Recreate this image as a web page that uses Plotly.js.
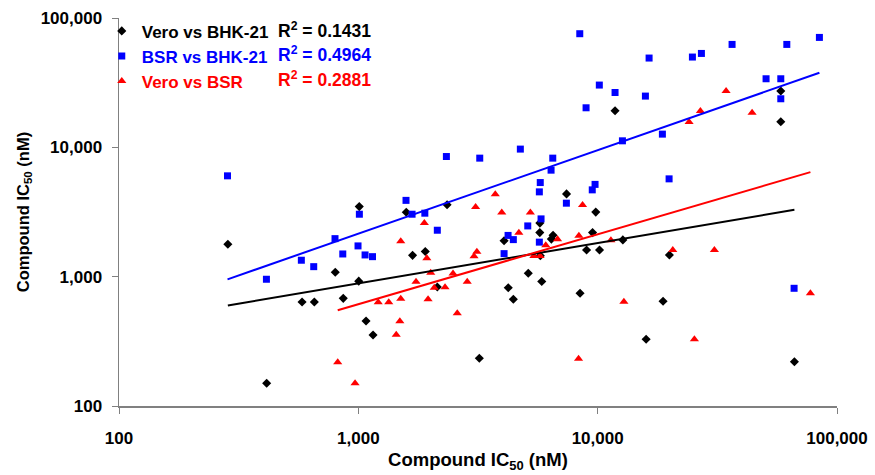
<!DOCTYPE html>
<html>
<head>
<meta charset="utf-8">
<script src="https://cdn.plot.ly/plotly-3.0.1.min.js"></script>
<style>html,body{margin:0;padding:0;background:#fff;}#chart{width:875px;height:475px;}</style>
</head>
<body>
<div id="chart"></div>
<script>
// Series names and R² labels
const seriesNames = ["Vero vs BHK-21", "BSR vs BHK-21", "Vero vs BSR"];
const r2Labels = ["0.1431", "0.4964", "0.2881"];

// Vero vs BHK-21 (black diamonds)
const veroBhkX = [285,414,582,655,801,865,1004,1009,1077,1152,1586,1685,1904,2138,2349,3203,4064,4231,4443,5129,5734,5730,5761,5840,6405,6510,7413,8441,8987,9521,9819,10180,11820,12740,15940,18760,19940,58230,58230,66380];
const veroBhkY = [1781,150,637,637,1083,680,923,3482,454,354,3151,1461,1567,832,3602,234,1896,821,669,1062,2595,2191,1451,918,1952,2091,4366,744,1609,2191,3156,1609,19160,1924,328,645,1472,27230,15750,220];

// BSR vs BHK-21 (blue squares)
const bsrBhkX = [284,413,578,651,799,861,997,1010,1067,1146,1582,1677,1896,2138,2333,3216,4064,4223,4443,4753,5104,5706,5706,5756,5800,6387,6492,7401,8418,8944,9493,9752,10160,11820,12690,15830,16400,18640,19880,24880,27130,36440,50540,58230,58230,61700,66180,84420];
const bsrBhkY = [6020,955,1340,1195,1968,1498,1729,3040,1472,1428,3890,3040,3096,2286,8490,8250,1507,2084,1934,9690,2468,4525,1849,5341,2797,6660,8250,3700,75600,20220,4690,5170,30300,26550,11230,24900,49020,12650,5705,49900,53210,62480,33900,33900,23740,62480,813,70770];

// Vero vs BSR (red triangles)
const veroBsrX = [820,969,1211,1340,1440,1491,1504,1504,1742,1887,1933,1956,2007,2076,2303,2487,2590,2851,3044,3090,3128,3734,3975,4685,5234,5413,5745,6069,6799,8321,8347,8647,11360,12870,20600,24100,25360,26870,30740,34400,44180,77420];
const veroBsrY = [218,150,634,633,355,452,1879,674,915,2595,1391,669,1074,821,829,1059,521,915,1438,3464,1558,4343,3140,2187,3140,1446,1446,1753,1948,232,2076,3589,1913,641,1609,15670,328,19060,1609,27230,18490,744];

// Axis ticks
const tickVals = [100, 1000, 10000, 100000];
const tickText = ["100", "1,000", "10,000", "100,000"];

const colors = ["#000000", "#0000ff", "#ff0000"];
const symbols = ["diamond", "square", "triangle-up"];
const sizes = [7, 7, 8];
const FONT = "Liberation Sans, Arial, sans-serif";

// power trendline (least squares in log-log space)
function powerFit(xs, ys) {
  const lx = xs.map(Math.log10), ly = ys.map(Math.log10);
  const n = lx.length;
  const mx = lx.reduce((a, b) => a + b, 0) / n;
  const my = ly.reduce((a, b) => a + b, 0) / n;
  let sxy = 0, sxx = 0;
  for (let i = 0; i < n; i++) { sxy += (lx[i] - mx) * (ly[i] - my); sxx += (lx[i] - mx) ** 2; }
  const b = sxy / sxx, a = my - b * mx;
  const xmin = Math.min(...xs), xmax = Math.max(...xs);
  return { x: [xmin, xmax], y: [Math.pow(10, a + b * Math.log10(xmin)), Math.pow(10, a + b * Math.log10(xmax))] };
}

const sets = [[veroBhkX, veroBhkY], [bsrBhkX, bsrBhkY], [veroBsrX, veroBsrY]];
const traces = [];
sets.forEach((s, i) => {
  traces.push({
    type: "scatter", mode: "markers", x: s[0], y: s[1],
    name: '<span style="color:' + colors[i] + '">' + seriesNames[i] + '</span>',
    marker: { symbol: symbols[i], size: sizes[i], color: colors[i] },
    hoverinfo: "x+y"
  });
});
sets.forEach((s, i) => {
  const f = powerFit(s[0], s[1]);
  traces.push({
    type: "scatter", mode: "lines", x: f.x, y: f.y, showlegend: false,
    line: { color: colors[i], width: 2 }, hoverinfo: "skip"
  });
});

const annY = [0.968, 0.906, 0.843];
const annotations = r2Labels.map((r, i) => ({
  xref: "paper", yref: "paper", x: 0.219, y: annY[i], xanchor: "left", yanchor: "middle",
  showarrow: false, text: "R<sup>2</sup> = " + r,
  font: { family: FONT, size: 17.5, color: colors[i], weight: "bold" }
}));

const axisCommon = {
  type: "log", range: [2, 5], tickvals: tickVals, ticktext: tickText,
  showgrid: false, zeroline: false, showline: true, linecolor: "#808080", linewidth: 1.5,
  ticks: "outside", ticklen: 6, tickwidth: 1, tickcolor: "#808080",
  tickfont: { family: FONT, size: 17, color: "#000", weight: "bold" }
};

const layout = {
  width: 875, height: 475,
  margin: { l: 119, r: 38, t: 18, b: 69 },
  paper_bgcolor: "#fff", plot_bgcolor: "#fff",
  showlegend: true,
  legend: {
    x: -0.024, y: 1.012, xanchor: "left", yanchor: "top",
    bgcolor: "rgba(0,0,0,0)", borderwidth: 0, tracegroupgap: 0,
    font: { family: FONT, size: 17, color: "#000", weight: "bold" }
  },
  xaxis: Object.assign({}, axisCommon, {
    ticklabelstandoff: 10,
    title: { text: "Compound IC<sub>50</sub> (nM)", font: { family: FONT, size: 18.5, color: "#000", weight: "bold" }, standoff: 6 }
  }),
  yaxis: Object.assign({}, axisCommon, {
    ticklabelstandoff: 6,
    title: { text: "Compound IC<sub>50</sub> (nM)", font: { family: FONT, size: 16.5, color: "#000", weight: "bold" }, standoff: 7 }
  }),
  annotations: annotations
};

Plotly.newPlot("chart", traces, layout, { displayModeBar: false, staticPlot: true });
</script>
</body>
</html>
